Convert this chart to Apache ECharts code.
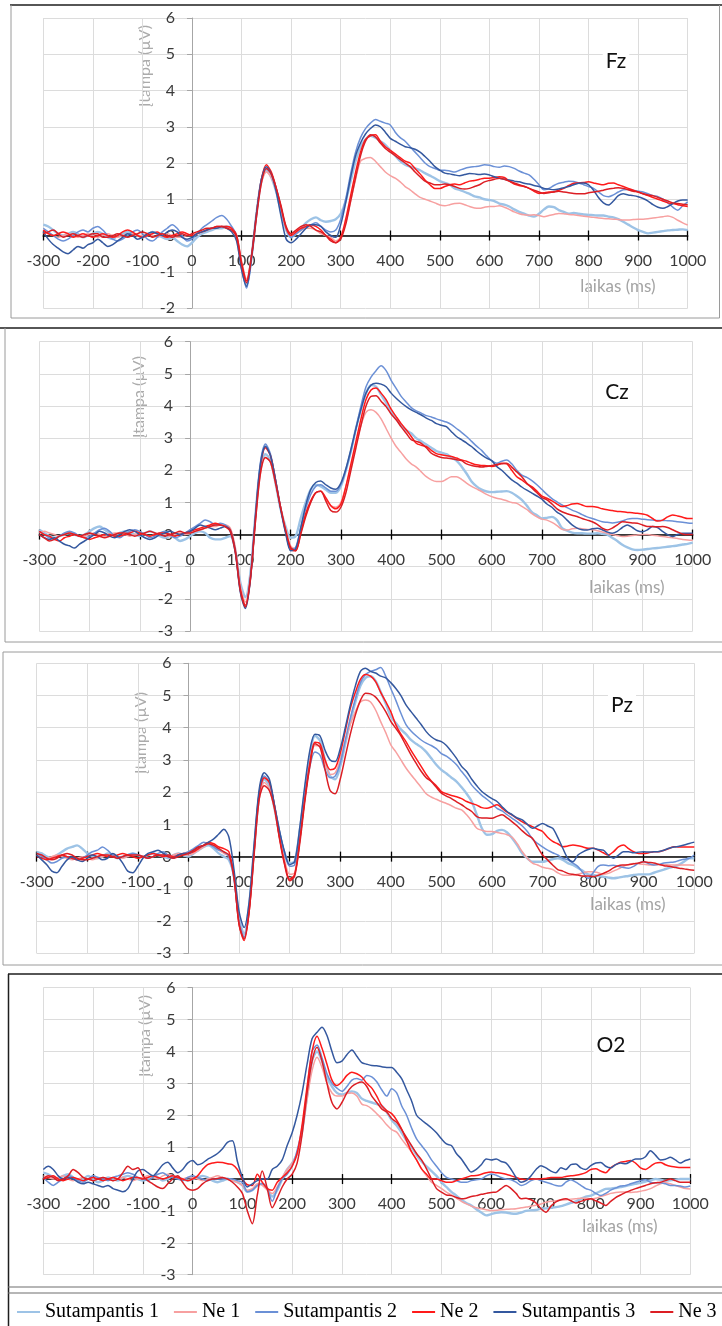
<!DOCTYPE html>
<html>
<head>
<meta charset="utf-8">
<script src="https://cdn.jsdelivr.net/npm/echarts@6/dist/echarts.min.js"></script>
<style>
html,body{margin:0;padding:0;background:#fff;}
#chart{width:722px;height:1326px;}
</style>
</head>
<body>
<div id="chart"></div>
<script>
// Sample times (ms) shared by every waveform
const times = [
-300,-290,-280,-270,-260,-250,-240,-230,-220,-210,
-200,-190,-180,-170,-160,-150,-140,-130,-120,-110,
-100,-90,-80,-70,-60,-50,-40,-30,-20,-10,
0,10,20,30,40,50,60,70,80,90,
100,110,120,130,140,150,160,170,180,190,
200,210,220,230,240,250,260,270,280,290,
300,310,320,330,340,350,360,370,380,390,
400,410,420,430,440,450,460,470,480,490,
500,510,520,530,540,550,560,570,580,590,
600,610,620,630,640,650,660,670,680,690,
700,710,720,730,740,750,760,770,780,790,
800,810,820,830,840,850,860,870,880,890,
900,910,920,930,940,950,960,970,980,990,
1000];

const seriesNames = ['Sutampantis 1', 'Ne 1', 'Sutampantis 2', 'Ne 2', 'Sutampantis 3', 'Ne 3'];
const xTicks = { min: -300, max: 1000, step: 100 };
const yTicks = { max: 6, step: 1 };

// ---------- Fz (µV) ----------
const fzSut1 = [
0.3,0.25,0.15,0.05,0.0,0.05,0.1,0.05,-0.05,0.0,
0.05,0.1,0.05,-0.05,-0.1,0.0,0.05,0.1,0.05,0.0,
-0.05,0.0,0.1,0.05,-0.05,-0.1,-0.05,-0.15,-0.25,-0.3,
-0.2,-0.05,0.05,0.1,0.15,0.2,0.2,0.25,0.2,-0.05,
-0.85,-1.35,-0.6,0.6,1.5,1.8,1.6,1.2,0.65,0.15,
-0.05,0.05,0.2,0.35,0.45,0.5,0.42,0.38,0.4,0.45,
0.6,0.95,1.5,2.05,2.45,2.65,2.75,2.7,2.6,2.5,
2.35,2.2,2.05,1.95,1.9,1.85,1.8,1.72,1.65,1.58,
1.5,1.45,1.4,1.3,1.26,1.2,1.15,1.08,1.05,1.0,
0.98,0.95,0.88,0.85,0.8,0.72,0.65,0.6,0.55,0.52,
0.6,0.72,0.8,0.78,0.7,0.65,0.6,0.62,0.6,0.58,
0.57,0.56,0.55,0.55,0.52,0.5,0.45,0.38,0.3,0.22,
0.15,0.1,0.06,0.08,0.1,0.12,0.14,0.15,0.16,0.17,
0.15];
const fzNe1 = [
0.1,0.05,0.0,-0.05,0.0,0.05,0.0,-0.05,0.0,0.05,
0.0,-0.05,0.0,0.05,0.0,-0.05,0.0,0.05,0.05,0.0,
0.0,0.05,0.0,-0.05,0.0,0.05,0.0,-0.05,-0.05,0.0,
0.0,0.05,0.1,0.15,0.2,0.2,0.25,0.25,0.2,0.0,
-0.7,-1.2,-0.55,0.55,1.45,1.75,1.6,1.25,0.7,0.2,
0.0,0.05,0.15,0.2,0.2,0.15,0.05,0.0,-0.05,-0.15,
-0.05,0.35,0.95,1.55,2.05,2.13,2.15,2.05,1.9,1.75,
1.65,1.58,1.48,1.35,1.26,1.15,1.05,1.0,0.95,0.9,
0.84,0.82,0.85,0.88,0.89,0.85,0.8,0.76,0.75,0.78,
0.8,0.8,0.82,0.78,0.72,0.65,0.6,0.57,0.56,0.57,
0.55,0.52,0.55,0.58,0.61,0.6,0.58,0.57,0.55,0.53,
0.52,0.5,0.48,0.47,0.46,0.45,0.44,0.43,0.43,0.44,
0.45,0.45,0.46,0.48,0.5,0.52,0.54,0.5,0.42,0.35,
0.29];
const fzSut2 = [
0.2,0.1,0.0,-0.1,-0.15,-0.1,0.0,0.1,0.15,0.1,
0.2,0.25,0.15,0.0,-0.1,-0.15,-0.1,0.0,0.1,0.15,
0.05,-0.1,-0.15,-0.05,0.1,0.2,0.3,0.2,0.0,-0.15,
-0.1,0.05,0.2,0.3,0.4,0.5,0.55,0.45,0.25,0.0,
-0.9,-1.45,-0.65,0.55,1.55,1.85,1.7,1.3,0.75,0.2,
-0.05,0.05,0.15,0.25,0.3,0.35,0.25,0.15,0.1,0.15,
0.45,1.0,1.7,2.3,2.7,2.95,3.1,3.2,3.15,3.1,
3.05,2.85,2.7,2.6,2.45,2.3,2.15,2.0,1.9,1.85,
1.8,1.8,1.78,1.75,1.8,1.85,1.88,1.9,1.92,1.95,
1.94,1.9,1.88,1.92,1.9,1.85,1.78,1.72,1.67,1.55,
1.4,1.26,1.3,1.38,1.44,1.47,1.5,1.49,1.45,1.4,
1.35,1.3,1.2,1.1,1.07,1.12,1.2,1.26,1.27,1.25,
1.22,1.2,1.15,1.1,1.07,1.0,0.9,0.78,0.7,0.82,
0.93];
const fzNe2 = [
0.15,0.05,0.0,0.05,0.1,0.05,-0.05,0.0,0.05,0.0,
-0.05,0.0,0.05,0.0,-0.05,0.0,0.1,0.15,0.1,0.0,
-0.05,0.0,0.05,0.1,0.0,-0.05,0.0,0.05,0.1,0.05,
0.0,0.05,0.1,0.15,0.2,0.25,0.25,0.25,0.2,0.0,
-0.75,-1.25,-0.55,0.6,1.55,1.95,1.75,1.3,0.75,0.2,
0.0,0.1,0.2,0.25,0.3,0.25,0.15,0.0,-0.1,-0.2,
-0.05,0.45,1.1,1.75,2.3,2.65,2.75,2.78,2.6,2.45,
2.35,2.25,2.15,2.05,2.0,1.85,1.7,1.53,1.4,1.3,
1.3,1.35,1.4,1.42,1.4,1.45,1.5,1.52,1.55,1.58,
1.58,1.6,1.62,1.6,1.5,1.42,1.38,1.35,1.3,1.22,
1.16,1.18,1.2,1.21,1.25,1.3,1.38,1.44,1.45,1.46,
1.48,1.45,1.42,1.4,1.44,1.45,1.4,1.35,1.3,1.25,
1.2,1.15,1.1,1.05,1.0,0.95,0.9,0.88,0.85,0.82,
0.8];
const fzSut3 = [
0.1,-0.1,-0.25,-0.35,-0.45,-0.5,-0.4,-0.3,-0.35,-0.25,
-0.2,-0.1,-0.2,-0.3,-0.25,-0.15,-0.05,0.05,0.0,-0.1,
-0.05,0.05,0.1,0.05,0.0,0.1,0.15,0.1,-0.05,-0.1,
-0.05,0.05,0.1,0.15,0.2,0.2,0.25,0.2,0.1,-0.15,
-0.95,-1.4,-0.6,0.6,1.55,1.9,1.7,1.2,0.5,-0.1,
-0.2,-0.1,0.05,0.2,0.3,0.3,0.25,0.1,0.0,-0.05,
0.3,0.9,1.6,2.2,2.55,2.8,2.95,3.05,3.0,2.85,
2.68,2.6,2.52,2.45,2.42,2.38,2.3,2.18,2.05,1.9,
1.8,1.72,1.7,1.67,1.65,1.68,1.71,1.7,1.68,1.7,
1.67,1.62,1.58,1.55,1.53,1.5,1.48,1.44,1.42,1.38,
1.35,1.3,1.28,1.26,1.28,1.32,1.35,1.4,1.44,1.45,
1.4,1.25,1.05,0.9,0.84,0.95,1.1,1.15,1.12,1.1,
1.07,1.02,0.95,0.85,0.78,0.75,0.8,0.88,0.95,0.98,
0.98];
const fzNe3 = [
0.05,0.1,0.15,0.05,-0.05,0.0,0.05,0.0,-0.05,0.0,
0.05,0.05,-0.05,-0.05,0.0,0.05,0.0,-0.05,0.0,0.05,
0.1,0.05,-0.05,0.0,0.05,0.0,-0.05,0.0,0.05,0.0,
0.05,0.1,0.15,0.2,0.2,0.25,0.25,0.2,0.15,-0.05,
-0.8,-1.3,-0.6,0.5,1.45,1.85,1.7,1.3,0.8,0.25,
0.05,0.15,0.25,0.3,0.25,0.15,0.1,0.0,-0.15,-0.2,
-0.1,0.3,0.95,1.6,2.2,2.6,2.78,2.72,2.55,2.4,
2.3,2.2,2.1,2.0,1.9,1.75,1.62,1.5,1.45,1.4,
1.4,1.42,1.4,1.35,1.3,1.28,1.3,1.35,1.4,1.48,
1.52,1.55,1.58,1.55,1.5,1.45,1.4,1.36,1.3,1.25,
1.2,1.16,1.18,1.2,1.22,1.2,1.18,1.16,1.15,1.15,
1.18,1.2,1.22,1.25,1.28,1.3,1.32,1.3,1.26,1.22,
1.2,1.15,1.12,1.1,1.05,1.0,0.95,0.9,0.88,0.86,
0.85];

// ---------- Cz (µV) ----------
const czSut1 = [
0.15,0.05,-0.05,-0.1,-0.05,0.0,0.05,0.0,-0.05,0.0,
0.1,0.2,0.25,0.15,0.05,0.0,0.05,0.1,0.05,0.0,
-0.05,0.05,0.1,0.05,-0.05,-0.1,-0.05,-0.1,-0.2,-0.15,
-0.05,0.05,0.1,0.05,-0.1,-0.15,-0.15,-0.1,-0.05,-0.5,
-1.5,-1.95,-1.2,0.6,2.1,2.5,2.3,1.6,0.8,0.25,
-0.1,-0.05,0.5,1.0,1.4,1.55,1.5,1.4,1.3,1.3,
1.5,2.0,2.6,3.3,3.9,4.4,4.65,4.6,4.35,4.1,
3.8,3.6,3.4,3.25,3.15,3.0,2.9,2.8,2.7,2.6,
2.55,2.5,2.4,2.3,2.12,1.9,1.65,1.5,1.4,1.34,
1.32,1.33,1.34,1.35,1.3,1.2,1.08,0.9,0.7,0.6,
0.5,0.52,0.55,0.45,0.2,0.12,0.06,0.04,0.04,0.03,
0.03,0.04,0.02,0.0,-0.1,-0.2,-0.32,-0.4,-0.46,-0.48,
-0.47,-0.45,-0.43,-0.42,-0.4,-0.38,-0.36,-0.34,-0.31,-0.29,
-0.25];
const czNe1 = [
0.05,0.1,0.05,0.0,-0.05,0.0,0.05,0.0,-0.05,-0.05,
0.0,0.05,0.0,-0.05,0.0,0.05,0.05,0.0,-0.05,0.0,
0.05,0.0,-0.05,0.0,0.05,0.0,-0.05,0.0,0.05,0.0,
0.05,0.1,0.15,0.2,0.25,0.25,0.3,0.3,0.2,-0.4,
-1.6,-2.1,-1.3,0.4,1.9,2.4,2.25,1.6,0.85,0.2,
-0.35,-0.45,0.1,0.6,1.0,1.3,1.35,1.1,0.9,0.85,
1.0,1.5,2.1,2.8,3.4,3.8,3.88,3.8,3.6,3.3,
3.0,2.74,2.55,2.35,2.2,2.1,1.95,1.8,1.7,1.65,
1.65,1.72,1.8,1.8,1.72,1.6,1.5,1.42,1.34,1.25,
1.18,1.13,1.1,1.05,1.0,0.97,0.88,0.78,0.65,0.55,
0.48,0.45,0.38,0.28,0.16,0.14,0.18,0.2,0.18,0.16,
0.15,0.12,0.08,0.04,0.0,-0.03,-0.06,-0.05,-0.03,-0.01,
0.0,0.0,-0.02,-0.04,-0.06,-0.08,-0.1,-0.12,-0.15,-0.17,
-0.18];
const czSut2 = [
0.1,0.0,-0.1,-0.15,-0.05,0.05,0.1,0.05,-0.05,-0.1,
-0.05,0.05,0.15,0.2,0.1,-0.05,-0.1,0.0,0.1,0.15,
0.1,0.0,-0.1,-0.05,0.05,0.1,0.0,-0.1,-0.05,0.05,
0.15,0.25,0.35,0.45,0.4,0.3,0.35,0.3,0.15,-0.5,
-1.75,-2.25,-1.35,0.6,2.25,2.82,2.5,1.7,0.85,0.1,
-0.45,-0.4,0.2,0.8,1.25,1.5,1.55,1.45,1.35,1.35,
1.55,2.0,2.6,3.3,4.0,4.6,4.9,5.1,5.25,5.1,
4.8,4.55,4.3,4.12,3.95,3.85,3.78,3.7,3.66,3.6,
3.55,3.5,3.42,3.3,3.18,3.05,2.9,2.75,2.62,2.45,
2.3,2.22,2.28,2.32,2.2,2.0,1.85,1.78,1.68,1.55,
1.4,1.25,1.12,1.02,0.92,0.84,0.76,0.7,0.62,0.55,
0.5,0.45,0.4,0.38,0.36,0.38,0.42,0.48,0.5,0.5,
0.48,0.46,0.45,0.44,0.44,0.43,0.42,0.4,0.38,0.36,
0.35];
const czNe2 = [
0.1,0.0,-0.05,-0.15,-0.2,-0.1,-0.05,0.0,-0.05,-0.1,
-0.15,-0.1,-0.05,0.0,0.0,-0.05,-0.05,0.0,0.05,0.1,
0.05,0.0,-0.05,0.0,0.05,0.05,0.0,-0.05,0.0,0.05,
0.1,0.15,0.2,0.25,0.3,0.35,0.3,0.25,0.15,-0.5,
-1.7,-2.2,-1.35,0.5,2.1,2.7,2.45,1.7,0.85,0.1,
-0.45,-0.5,0.05,0.65,1.05,1.3,1.35,1.15,0.9,0.8,
0.95,1.5,2.2,2.9,3.6,4.2,4.5,4.56,4.4,4.2,
3.9,3.67,3.45,3.26,3.05,2.84,2.78,2.74,2.62,2.52,
2.48,2.45,2.43,2.38,2.32,2.28,2.22,2.17,2.15,2.14,
2.12,2.15,2.22,2.2,2.0,1.8,1.7,1.58,1.49,1.35,
1.2,1.13,1.05,0.95,0.87,0.9,0.95,0.97,0.92,0.87,
0.87,0.85,0.8,0.77,0.75,0.72,0.71,0.69,0.68,0.66,
0.64,0.6,0.5,0.42,0.45,0.55,0.61,0.58,0.54,0.5,
0.5];
const czSut3 = [
0.0,-0.1,-0.15,-0.1,-0.2,-0.3,-0.35,-0.42,-0.3,-0.2,
-0.1,0.0,0.1,0.05,-0.05,-0.1,0.0,0.1,0.15,0.1,
0.0,-0.1,-0.15,-0.1,0.0,0.05,0.1,0.05,0.0,0.05,
0.1,0.2,0.3,0.25,0.2,0.15,0.2,0.25,0.1,-0.55,
-1.8,-2.3,-1.4,0.55,2.2,2.75,2.45,1.7,0.8,0.05,
-0.5,-0.45,0.2,0.9,1.4,1.62,1.67,1.55,1.45,1.41,
1.6,2.05,2.65,3.3,3.9,4.4,4.65,4.71,4.68,4.6,
4.4,4.24,4.1,3.98,3.88,3.8,3.72,3.62,3.55,3.45,
3.4,3.36,3.2,3.05,2.95,2.85,2.74,2.6,2.48,2.38,
2.3,2.12,2.0,1.85,1.7,1.6,1.48,1.38,1.29,1.2,
1.1,0.95,0.85,0.7,0.6,0.45,0.3,0.2,0.15,0.14,
0.18,0.2,0.15,0.08,0.04,0.1,0.22,0.3,0.22,0.12,
0.09,0.15,0.25,0.22,0.1,0.0,-0.06,0.0,0.04,0.04,
0.04];
const czNe3 = [
0.0,-0.1,-0.2,-0.15,-0.05,0.0,0.05,0.0,-0.05,0.0,
0.05,0.0,-0.05,-0.1,-0.05,0.0,0.05,0.05,0.0,-0.05,
0.0,0.05,0.1,0.05,0.0,-0.05,0.0,0.05,0.1,0.05,
0.05,0.1,0.15,0.2,0.25,0.3,0.3,0.25,0.1,-0.55,
-1.75,-2.25,-1.4,0.4,1.9,2.4,2.25,1.6,0.85,0.15,
-0.4,-0.5,0.0,0.55,1.0,1.3,1.35,1.05,0.75,0.7,
0.85,1.3,2.0,2.7,3.4,4.0,4.3,4.32,4.15,3.98,
3.75,3.57,3.35,3.15,2.95,2.9,2.84,2.7,2.53,2.45,
2.4,2.38,2.36,2.33,2.3,2.2,2.15,2.12,2.1,2.12,
2.15,2.18,2.2,2.22,2.1,1.95,1.8,1.6,1.45,1.3,
1.15,1.08,0.95,0.8,0.71,0.65,0.6,0.56,0.5,0.45,
0.4,0.32,0.2,0.14,0.2,0.3,0.4,0.38,0.36,0.35,
0.3,0.25,0.25,0.24,0.25,0.22,0.15,0.08,0.02,0.0,
0.0];

// ---------- Pz (µV) ----------
const pzSut1 = [
0.15,0.1,0.0,-0.05,0.05,0.15,0.25,0.3,0.35,0.25,
0.1,0.0,-0.05,0.0,0.1,0.05,-0.05,0.0,0.05,0.1,
0.05,0.0,0.05,0.1,0.05,0.0,-0.05,0.05,0.1,0.05,
0.0,0.1,0.2,0.3,0.35,0.25,0.1,0.0,-0.1,-0.6,
-1.9,-2.4,-1.5,0.3,1.9,2.4,2.2,1.5,0.7,0.1,
-0.2,-0.15,0.8,2.0,3.1,3.75,3.6,3.0,2.5,2.4,
2.8,3.5,4.2,4.8,5.3,5.55,5.6,5.45,5.12,4.75,
4.35,4.15,3.95,3.8,3.62,3.5,3.4,3.25,3.05,2.85,
2.69,2.58,2.45,2.33,2.15,1.95,1.71,1.3,0.88,0.68,
0.7,0.8,0.83,0.75,0.57,0.35,0.1,-0.05,-0.16,-0.16,
-0.16,-0.12,-0.08,-0.05,-0.1,-0.2,-0.26,-0.35,-0.45,-0.55,
-0.57,-0.6,-0.62,-0.65,-0.67,-0.65,-0.62,-0.6,-0.57,-0.55,
-0.55,-0.55,-0.5,-0.45,-0.4,-0.35,-0.31,-0.25,-0.15,-0.05,
-0.05];
const pzNe1 = [
0.05,0.0,-0.05,0.0,0.05,0.0,-0.05,-0.1,-0.05,0.0,
-0.05,-0.1,-0.05,0.0,0.05,0.05,0.0,-0.05,0.0,0.05,
0.05,0.0,-0.05,0.0,0.05,0.05,0.0,0.05,0.1,0.05,
0.05,0.1,0.2,0.3,0.4,0.35,0.2,0.1,0.0,-0.6,
-2.0,-2.5,-1.6,0.2,1.8,2.3,2.1,1.5,0.6,-0.1,
-0.55,-0.5,0.5,1.8,2.9,3.45,3.4,2.9,2.55,2.6,
3.0,3.6,4.1,4.5,4.8,4.86,4.8,4.55,4.19,3.85,
3.47,3.25,3.0,2.75,2.54,2.35,2.15,1.95,1.85,1.78,
1.71,1.65,1.58,1.5,1.45,1.3,1.1,0.88,0.82,0.78,
0.78,0.75,0.72,0.68,0.6,0.4,0.15,-0.05,-0.2,-0.26,
-0.33,-0.36,-0.4,-0.5,-0.57,-0.58,-0.57,-0.55,-0.5,-0.47,
-0.47,-0.5,-0.55,-0.52,-0.45,-0.38,-0.3,-0.24,-0.21,-0.22,
-0.24,-0.26,-0.26,-0.25,-0.25,-0.26,-0.26,-0.26,-0.26,-0.26,
-0.27];
const pzSut2 = [
0.1,0.0,-0.1,-0.2,-0.15,-0.05,0.0,-0.05,-0.1,-0.05,
0.05,0.15,0.2,0.3,0.2,0.05,-0.05,0.0,0.05,0.1,
0.05,0.0,-0.05,0.0,0.1,0.15,0.05,0.0,0.05,0.1,
0.15,0.25,0.35,0.45,0.4,0.3,0.2,0.15,0.0,-0.7,
-2.0,-2.5,-1.6,0.3,2.0,2.5,2.3,1.6,0.8,0.1,
-0.3,-0.25,0.6,1.8,2.8,3.25,3.15,2.7,2.45,2.5,
2.9,3.6,4.3,4.9,5.4,5.65,5.75,5.8,5.87,5.6,
5.22,4.85,4.45,4.1,3.9,3.75,3.62,3.52,3.45,3.35,
3.2,3.12,3.0,2.85,2.64,2.45,2.22,2.05,1.9,1.78,
1.65,1.5,1.42,1.3,1.19,1.08,0.95,0.78,0.55,0.41,
0.3,0.2,0.12,0.05,-0.05,-0.1,-0.2,-0.31,-0.5,-0.67,
-0.5,-0.3,-0.26,-0.28,-0.27,-0.3,-0.34,-0.36,-0.3,-0.2,
-0.16,-0.22,-0.26,-0.24,-0.2,-0.18,-0.17,-0.12,-0.08,-0.05,
0.05];
const pzNe2 = [
0.0,-0.05,-0.1,-0.05,0.0,0.05,0.0,-0.05,-0.1,-0.05,
0.0,0.05,0.1,0.05,0.0,0.0,0.05,0.1,0.05,0.0,
-0.05,0.0,0.05,0.1,0.05,0.0,0.05,0.0,0.05,0.1,
0.1,0.15,0.25,0.35,0.45,0.4,0.3,0.25,0.15,-0.6,
-2.1,-2.6,-1.7,0.2,1.95,2.45,2.3,1.6,0.6,-0.2,
-0.7,-0.55,0.5,1.8,2.9,3.55,3.5,3.0,2.7,2.75,
3.2,3.9,4.6,5.1,5.5,5.65,5.6,5.43,5.1,4.81,
4.5,4.09,3.8,3.57,3.3,3.05,2.8,2.55,2.35,2.2,
2.02,1.95,1.9,1.86,1.8,1.71,1.65,1.6,1.52,1.5,
1.55,1.61,1.5,1.38,1.29,1.18,1.08,1.0,0.93,0.85,
0.78,0.6,0.47,0.4,0.31,0.33,0.36,0.34,0.3,0.26,
0.26,0.2,0.12,0.05,0.15,0.3,0.36,0.25,0.15,0.1,
0.1,0.12,0.15,0.15,0.2,0.25,0.31,0.3,0.3,0.3,
0.3];
const pzSut3 = [
0.05,-0.1,-0.25,-0.45,-0.5,-0.3,-0.1,0.0,-0.1,-0.15,
-0.05,0.05,0.0,-0.1,-0.05,0.1,0.0,-0.2,-0.45,-0.5,
-0.3,-0.05,0.1,0.15,0.2,0.1,0.0,-0.05,0.05,0.1,
0.1,0.2,0.3,0.35,0.45,0.55,0.7,0.85,0.6,-0.4,
-1.7,-2.2,-1.4,0.4,2.1,2.6,2.4,1.6,0.8,0.15,
-0.25,-0.15,0.9,2.2,3.3,3.8,3.75,3.3,3.0,2.95,
3.35,4.0,4.7,5.3,5.75,5.85,5.75,5.7,5.6,5.55,
5.4,5.22,5.0,4.71,4.5,4.3,4.1,3.88,3.72,3.62,
3.57,3.45,3.26,3.05,2.8,2.64,2.4,2.2,2.02,1.9,
1.8,1.71,1.55,1.4,1.3,1.2,1.14,1.0,0.88,0.95,
1.03,0.95,0.88,0.6,0.26,-0.05,-0.16,0.05,0.15,0.22,
0.26,0.22,0.2,0.05,-0.05,0.05,0.15,0.15,0.12,0.14,
0.15,0.14,0.15,0.16,0.2,0.26,0.3,0.32,0.36,0.41,
0.45];
const pzNe3 = [
0.1,0.05,-0.05,-0.1,-0.05,0.05,0.1,0.05,-0.05,-0.1,
-0.1,-0.05,0.0,0.05,0.05,0.0,-0.05,0.0,0.05,0.05,
0.05,0.0,-0.05,0.0,0.05,0.05,0.0,-0.05,0.0,0.05,
0.1,0.2,0.3,0.35,0.4,0.35,0.25,0.15,0.05,-0.65,
-2.1,-2.55,-1.7,0.1,1.8,2.2,2.05,1.5,0.55,-0.25,
-0.75,-0.6,0.4,1.7,2.8,3.5,3.4,2.7,2.05,1.95,
2.4,3.1,3.8,4.4,4.85,5.07,5.05,4.95,4.75,4.5,
4.2,3.98,3.75,3.45,3.16,2.9,2.65,2.45,2.33,2.15,
1.97,1.88,1.8,1.7,1.61,1.5,1.4,1.24,1.2,1.2,
1.19,1.25,1.3,1.2,1.08,0.95,0.8,0.67,0.57,0.3,
0.05,-0.1,-0.26,-0.4,-0.45,-0.52,-0.55,-0.57,-0.6,-0.6,
-0.62,-0.58,-0.52,-0.45,-0.35,-0.28,-0.26,-0.25,-0.22,-0.2,
-0.16,-0.18,-0.2,-0.24,-0.28,-0.3,-0.33,-0.36,-0.38,-0.41,
-0.42];

// ---------- O2 (µV) ----------
const o2Sut1 = [
0.2,0.15,0.05,0.0,0.1,0.15,0.05,-0.05,0.0,0.1,
0.0,-0.1,-0.05,0.05,0.0,-0.05,0.05,0.1,0.05,0.0,
-0.05,0.0,0.1,0.05,-0.05,0.0,0.1,0.05,0.0,-0.05,
0.0,0.05,0.1,0.05,-0.05,-0.1,-0.05,0.0,-0.05,-0.1,
-0.2,-0.4,-0.35,-0.2,-0.15,-0.3,-0.55,-0.35,0.0,0.3,
0.5,0.8,1.5,2.6,3.7,4.0,3.7,3.2,2.9,2.7,
2.65,2.7,2.75,2.7,2.52,2.45,2.4,2.35,2.3,2.1,
1.85,1.68,1.45,1.2,1.0,0.75,0.55,0.4,0.25,0.1,
-0.1,-0.25,-0.4,-0.52,-0.65,-0.75,-0.83,-0.95,-1.05,-1.14,
-1.1,-1.06,-1.04,-1.05,-1.08,-1.09,-1.05,-1.0,-0.98,-0.97,
-0.93,-0.92,-0.9,-0.88,-0.85,-0.8,-0.75,-0.7,-0.62,-0.55,
-0.52,-0.45,-0.38,-0.31,-0.3,-0.28,-0.25,-0.22,-0.18,-0.15,
-0.12,-0.08,-0.04,0.0,-0.02,-0.05,-0.04,-0.02,0.0,0.0,
0.0];
const o2Ne1 = [
0.1,0.05,0.0,0.05,0.1,0.0,-0.05,0.0,0.05,0.0,
-0.05,0.0,0.05,0.0,-0.05,0.0,0.05,0.0,-0.05,0.0,
0.05,0.1,0.05,0.0,0.1,0.15,0.1,0.05,0.0,0.05,
0.05,0.0,-0.05,0.0,0.05,0.1,0.05,0.0,-0.05,-0.1,
-0.2,-0.35,-0.3,-0.15,-0.2,-0.35,-0.45,-0.25,0.05,0.3,
0.5,0.8,1.5,2.5,3.4,3.82,3.5,3.0,2.7,2.6,
2.6,2.68,2.7,2.6,2.35,2.3,2.2,2.05,1.89,1.7,
1.55,1.47,1.25,1.05,0.85,0.6,0.32,0.1,-0.1,-0.2,
-0.3,-0.41,-0.5,-0.6,-0.7,-0.78,-0.85,-0.9,-0.93,-0.96,
-0.99,-0.98,-0.96,-0.95,-0.94,-0.93,-0.9,-0.88,-0.85,-0.82,
-0.78,-0.73,-0.7,-0.68,-0.66,-0.65,-0.63,-0.62,-0.6,-0.6,
-0.62,-0.6,-0.55,-0.5,-0.45,-0.42,-0.41,-0.41,-0.42,-0.41,
-0.38,-0.35,-0.3,-0.22,-0.15,-0.12,-0.15,-0.2,-0.25,-0.3,
-0.31];
const o2Sut2 = [
0.05,-0.1,-0.2,-0.1,0.0,0.1,0.05,-0.05,-0.1,0.0,
0.1,0.05,0.0,-0.05,0.05,0.1,0.15,0.2,0.15,0.05,
0.0,-0.05,0.05,0.15,0.2,0.1,0.05,0.0,-0.05,0.05,
0.1,0.05,0.0,-0.05,0.0,0.0,0.0,0.02,0.0,-0.05,
-0.1,-0.4,-0.35,-0.2,-0.15,-0.3,-0.7,-0.3,0.0,0.15,
0.4,0.9,1.6,2.8,4.0,4.2,3.8,3.3,3.0,2.85,
2.75,2.9,3.1,3.15,3.1,3.25,3.2,3.05,2.8,2.6,
2.83,2.7,2.3,2.0,1.6,1.26,1.05,0.85,0.6,0.4,
0.2,0.05,0.0,-0.05,-0.1,-0.1,-0.05,-0.02,0.0,0.1,
0.16,0.12,0.05,0.0,-0.02,-0.1,-0.2,-0.15,-0.05,0.0,
-0.05,-0.1,-0.15,-0.2,-0.22,-0.1,-0.02,-0.1,-0.2,-0.3,
-0.35,-0.45,-0.52,-0.45,-0.35,-0.28,-0.22,-0.2,-0.15,-0.1,
-0.05,-0.02,-0.1,-0.12,-0.12,-0.15,-0.2,-0.2,-0.22,-0.25,
-0.22];
const o2Ne2 = [
0.0,0.05,0.1,0.0,-0.05,0.0,0.05,0.0,-0.05,0.0,
0.05,0.0,-0.05,0.0,0.05,0.0,-0.05,0.0,0.05,0.05,
0.0,0.05,0.1,0.05,0.0,0.05,0.1,0.05,0.0,-0.05,
0.0,0.1,0.3,0.45,0.5,0.53,0.52,0.48,0.45,0.3,
0.0,-0.18,-0.2,0.15,-0.1,-0.3,-0.35,-0.1,0.05,0.2,
0.4,0.8,1.7,2.9,4.0,4.48,4.1,3.6,3.1,2.93,
3.05,3.25,3.35,3.3,3.2,3.0,2.85,2.6,2.3,2.15,
2.05,1.85,1.57,1.2,0.85,0.6,0.32,0.15,0.0,0.0,
-0.05,-0.1,-0.1,-0.05,0.0,0.05,0.1,0.11,0.15,0.2,
0.22,0.2,0.18,0.15,0.1,0.05,0.0,-0.02,0.0,0.0,
0.0,0.02,0.05,0.05,0.05,0.08,0.1,0.12,0.15,0.2,
0.3,0.32,0.25,0.2,0.35,0.45,0.53,0.55,0.58,0.5,
0.35,0.3,0.4,0.5,0.52,0.45,0.4,0.38,0.36,0.36,
0.36];
const o2Sut3 = [
0.3,0.4,0.3,0.1,0.0,0.05,0.0,-0.1,-0.15,-0.1,
-0.15,-0.2,-0.25,-0.2,-0.3,-0.35,-0.4,-0.3,0.0,0.25,
0.3,0.2,0.1,0.25,0.45,0.53,0.35,0.2,0.3,0.5,
0.58,0.45,0.5,0.62,0.7,0.8,0.95,1.15,1.2,0.55,
0.06,-0.25,-0.15,-0.05,0.0,0.0,0.3,0.4,0.6,1.05,
1.45,2.0,2.7,3.6,4.4,4.6,4.76,4.5,4.0,3.65,
3.7,3.9,4.05,3.85,3.65,3.6,3.56,3.55,3.52,3.5,
3.5,3.35,3.15,2.8,2.45,2.0,1.85,1.73,1.6,1.45,
1.26,1.1,1.05,0.8,0.63,0.4,0.22,0.3,0.45,0.63,
0.6,0.63,0.55,0.5,0.3,0.05,-0.1,-0.05,0.1,0.3,
0.42,0.35,0.25,0.2,0.35,0.3,0.45,0.47,0.35,0.3,
0.42,0.5,0.52,0.4,0.35,0.45,0.5,0.48,0.55,0.63,
0.63,0.7,0.89,0.75,0.6,0.62,0.68,0.6,0.5,0.58,
0.63];
const o2Ne3 = [
0.0,0.1,0.05,-0.05,0.0,0.1,0.3,0.2,0.05,0.0,
-0.05,0.0,0.05,0.0,-0.05,0.0,0.2,0.4,0.3,0.35,
0.1,-0.05,-0.15,-0.25,-0.3,-0.15,0.0,0.1,-0.1,-0.3,
-0.35,-0.3,-0.15,-0.05,0.0,0.02,0.05,0.0,-0.1,-0.25,
-0.45,-1.0,-1.4,-0.5,0.25,-0.3,-0.9,-0.6,-0.25,0.0,
0.15,0.5,1.4,2.7,3.7,4.13,3.7,3.0,2.4,2.2,
2.4,2.7,2.9,3.0,3.04,2.9,2.6,2.4,2.2,2.1,
1.9,1.78,1.55,1.3,1.05,0.8,0.6,0.32,0.0,-0.3,
-0.41,-0.5,-0.52,-0.58,-0.62,-0.6,-0.55,-0.52,-0.48,-0.45,
-0.42,-0.41,-0.3,-0.2,-0.3,-0.45,-0.62,-0.6,-0.65,-0.75,
-0.93,-1.04,-0.85,-0.72,-0.65,-0.62,-0.68,-0.75,-0.7,-0.65,
-0.62,-0.68,-0.75,-0.83,-0.7,-0.58,-0.5,-0.42,-0.36,-0.3,
-0.25,-0.2,-0.15,-0.12,-0.1,-0.05,0.0,-0.05,-0.1,-0.1,
-0.1];

// Line colours and widths, in legend order
const lineColors = ['#9dc3e6', '#f7a0a0', '#6b90d6', '#ff1a1a', '#34589f', '#dc1e24'];
const lineWidths = [2.4, 1.5, 1.5, 1.5, 1.5, 1.5];

// One plot area per electrode
const panels = [
  { label: 'Fz', yMin: -2, waves: [fzSut1, fzNe1, fzSut2, fzNe2, fzSut3, fzNe3],
    grid: { left: 43.3, top: 18, width: 644.4, height: 290 },
    labelPos: [616, 61], yNamePos: [145, 66], xNamePos: [618, 287] },
  { label: 'Cz', yMin: -3, waves: [czSut1, czNe1, czSut2, czNe2, czSut3, czNe3],
    grid: { left: 39.3, top: 341.7, width: 653.4, height: 289.3 },
    labelPos: [617, 392], yNamePos: [139, 397], xNamePos: [627, 588] },
  { label: 'Pz', yMin: -3, waves: [pzSut1, pzNe1, pzSut2, pzNe2, pzSut3, pzNe3],
    grid: { left: 36.7, top: 663.3, width: 657.6, height: 290 },
    labelPos: [622, 705], yNamePos: [141, 733], xNamePos: [628, 905] },
  { label: 'O2', yMin: -3, waves: [o2Sut1, o2Ne1, o2Sut2, o2Ne2, o2Sut3, o2Ne3],
    grid: { left: 43.3, top: 987.7, width: 647, height: 287 },
    labelPos: [611, 1045], yNamePos: [145, 1036], xNamePos: [620, 1227] }
];

const tickFont = { fontFamily: 'Lato', fontSize: 16, color: '#3a3a3a' };
const gridLineColor = '#dcdcdc';

const grids = [], xAxes = [], yAxes = [], series = [], graphics = [];

panels.forEach((p, i) => {
  const g = p.grid;
  grids.push(Object.assign({}, g));
  // pixel distances used to slide the axes onto the zero lines
  const pxPerUnit = g.height / (yTicks.max - p.yMin);
  const zeroFromBottom = -p.yMin * pxPerUnit;
  const zeroFromTop = yTicks.max * pxPerUnit;
  const zeroFromLeft = (0 - xTicks.min) * g.width / (xTicks.max - xTicks.min);

  // main time axis: line, downward ticks, labels, vertical grid lines
  xAxes.push({
    type: 'value', gridIndex: i, min: xTicks.min, max: xTicks.max, interval: xTicks.step,
    position: 'bottom', offset: -zeroFromBottom,
    axisLine: { show: true, onZero: false, lineStyle: { color: '#000', width: 1.6 } },
    axisTick: { show: true, length: 5, lineStyle: { color: '#000', width: 1.3 } },
    axisLabel: Object.assign({ margin: 17, formatter: v => String(v) }, tickFont),
    splitLine: { show: true, lineStyle: { color: gridLineColor, width: 1 } }
  });
  // companion axis giving the upper half of the crossing tick marks
  xAxes.push({
    type: 'value', gridIndex: i, min: xTicks.min, max: xTicks.max, interval: xTicks.step,
    position: 'top', offset: -zeroFromTop,
    axisLine: { show: false, onZero: false },
    axisTick: { show: true, length: 5, lineStyle: { color: '#000', width: 1.3 } },
    axisLabel: { show: false },
    splitLine: { show: false }
  });
  yAxes.push({
    type: 'value', gridIndex: i, min: p.yMin, max: yTicks.max, interval: yTicks.step,
    position: 'left', offset: -zeroFromLeft,
    axisLine: { show: true, onZero: false, lineStyle: { color: '#a6a6a6', width: 1 } },
    axisTick: { show: true, length: 5, lineStyle: { color: '#a6a6a6' } },
    axisLabel: Object.assign({ margin: 17 }, tickFont),
    splitLine: { show: true, lineStyle: { color: gridLineColor, width: 1 } }
  });
  p.waves.forEach((w, k) => {
    series.push({
      name: seriesNames[k], type: 'line', xAxisIndex: 2 * i, yAxisIndex: i,
      data: times.map((t, j) => [t, w[j]]),
      symbol: 'none', smooth: 0.3,
      lineStyle: { color: lineColors[k], width: lineWidths[k] },
      itemStyle: { color: lineColors[k] },
      emphasis: { disabled: true }
    });
  });
  graphics.push({
    type: 'text', x: p.labelPos[0], y: p.labelPos[1], z: 10,
    style: { text: p.label, fill: '#111', fontFamily: 'Lato', fontSize: 21,
      backgroundColor: '#fff', padding: [2, 3],
      textAlign: 'center', textVerticalAlign: 'middle', align: 'center', verticalAlign: 'middle' }
  });
  graphics.push({
    type: 'text', x: p.yNamePos[0], y: p.yNamePos[1], rotation: Math.PI / 2,
    style: { text: 'Įtampa (µV)', fill: '#ababab', fontFamily: 'Lato', fontSize: 16,
      textAlign: 'center', textVerticalAlign: 'middle', align: 'center', verticalAlign: 'middle' }
  });
  graphics.push({
    type: 'text', x: p.xNamePos[0], y: p.xNamePos[1],
    style: { text: 'laikas (ms)', fill: '#a3a3a3', fontFamily: 'Lato', fontSize: 17,
      textAlign: 'center', textVerticalAlign: 'middle', align: 'center', verticalAlign: 'middle' }
  });
});

// Frames around each electrode panel
function frameLine(x1, y1, x2, y2, color, w) {
  return { type: 'line', shape: { x1, y1, x2, y2 }, style: { stroke: color, lineWidth: w }, silent: true };
}
const dark = '#1e1e1e', grey = '#9a9a9a';
graphics.push(
  frameLine(10, 5, 722, 5, dark, 1.5),
  frameLine(11, 5, 11, 318, grey, 1),
  frameLine(11, 318, 719.5, 318, grey, 1),
  frameLine(719.5, 5, 719.5, 318, grey, 1),
  frameLine(0, 328, 722, 328, dark, 1.5),
  frameLine(5, 328, 5, 642, grey, 1),
  frameLine(5, 642, 722, 642, grey, 1),
  frameLine(3, 652, 722, 652, grey, 1),
  frameLine(3, 652, 3, 965, grey, 1),
  frameLine(3, 965, 722, 965, grey, 1),
  frameLine(8, 974, 722, 974, dark, 1.5),
  frameLine(8.5, 974, 8.5, 1326, dark, 1.5),
  frameLine(8, 1287, 722, 1287, '#6e6e6e', 1.2),
  frameLine(8, 1293, 722, 1293, '#6e6e6e', 1.2)
);

const chart = echarts.init(document.getElementById('chart'), null, { renderer: 'canvas' });
chart.setOption({
  animation: false,
  backgroundColor: '#ffffff',
  grid: grids,
  xAxis: xAxes,
  yAxis: yAxes,
  series: series,
  legend: {
    data: seriesNames, left: 17, top: 1302, orient: 'horizontal', padding: 0,
    icon: 'rect', itemWidth: 23, itemHeight: 2, itemGap: 15,
    textStyle: { fontFamily: "'Liberation Serif', 'Times New Roman', serif", fontSize: 20, color: '#000' },
    selectedMode: false
  },
  graphic: graphics
});
</script>
</body>
</html>
